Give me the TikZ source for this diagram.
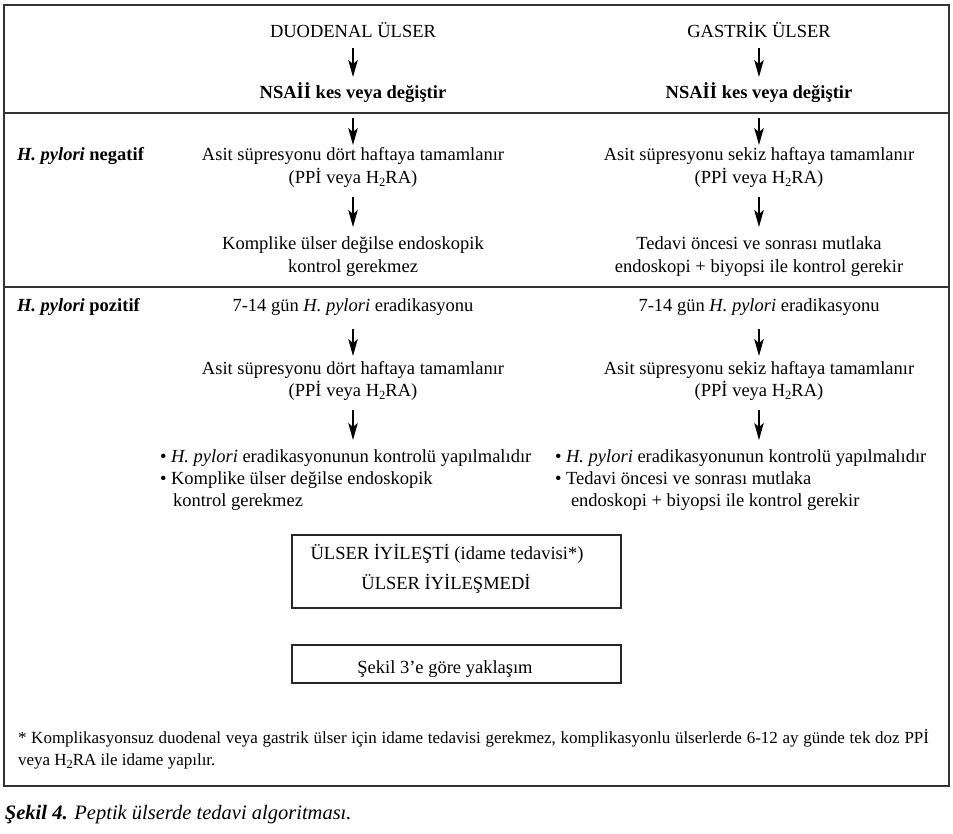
\documentclass[tikz,border=0pt]{standalone}
\usepackage{fontspec}
\setmainfont{Liberation Serif}
\usetikzlibrary{arrows.meta}
\newcommand{\lowsub}[1]{\raisebox{-3.8pt}{\fontsize{12.5}{12}\selectfont #1}}
\begin{document}
\begin{tikzpicture}[x=1pt,y=-1pt,
  every node/.style={inner sep=0pt,outer sep=0pt},
  txt/.style={font=\fontsize{18.5}{23}\selectfont,text height=13pt,text depth=4pt,anchor=base},
  btxt/.style={txt,font=\fontsize{18.5}{23}\selectfont\bfseries},
  fn/.style={font=\fontsize{17}{22}\selectfont,anchor=base west},
  frame/.style={draw=black!80,line width=1.4pt},
  sep/.style={draw=black!80,line width=1.2pt},
  boxnode/.style={draw=black!85,line width=1.2pt,minimum width=329pt},
  arr/.style={-{Stealth[length=17pt,width=9.5pt,inset=4pt]},line width=1.1pt}
]
\useasboundingbox (0,0) rectangle (953,833);
\draw[frame] (4,5) rectangle (949,786);
\draw[sep] (4,113) -- (949,113);
\draw[sep] (4,287) -- (949,287);

% headers
\node[txt] (duT) at (353,37) {DUODENAL ÜLSER};
\node[txt] (gaT) at (759,37) {GASTRİK ÜLSER};
\node[btxt] (duN) at (353,98) {NSAİİ kes veya değiştir};
\node[btxt] (gaN) at (759,98) {NSAİİ kes veya değiştir};

% H. pylori negatif
\node[btxt,anchor=base west] (neg) at (17,160) {\textit{H. pylori} negatif};
\node[txt] (duA1) at (353,160) {Asit süpresyonu dört haftaya tamamlanır};
\node[txt] (duP1) at (353,183) {(PPİ veya H\lowsub{2}RA)};
\node[txt] (duK1) at (353,249) {Komplike ülser değilse endoskopik};
\node[txt] (duK2) at (353,272) {kontrol gerekmez};
\node[txt] (gaA1) at (759,160) {Asit süpresyonu sekiz haftaya tamamlanır};
\node[txt] (gaP1) at (759,183) {(PPİ veya H\lowsub{2}RA)};
\node[txt] (gaK1) at (759,249) {Tedavi öncesi ve sonrası mutlaka};
\node[txt] (gaK2) at (759,272) {endoskopi + biyopsi ile kontrol gerekir};

% H. pylori pozitif
\node[btxt,anchor=base west] (pos) at (17,311) {\textit{H. pylori} pozitif};
\node[txt] (duE) at (353,311) {7-14 gün \textit{H. pylori} eradikasyonu};
\node[txt] (duA2) at (353,374) {Asit süpresyonu dört haftaya tamamlanır};
\node[txt] (duP2) at (353,396) {(PPİ veya H\lowsub{2}RA)};
\node[txt,anchor=base west] (duB1) at (160,462) {\textbullet\ \textit{H. pylori} eradikasyonunun kontrolü yapılmalıdır};
\node[txt,anchor=base west] (duB2) at (160,484) {\textbullet\ Komplike ülser değilse endoskopik};
\node[txt,anchor=base west] (duB3) at (173,506) {kontrol gerekmez};
\node[txt] (gaE) at (759,311) {7-14 gün \textit{H. pylori} eradikasyonu};
\node[txt] (gaA2) at (759,374) {Asit süpresyonu sekiz haftaya tamamlanır};
\node[txt] (gaP2) at (759,396) {(PPİ veya H\lowsub{2}RA)};
\node[txt,anchor=base west] (gaB1) at (555,462) {\textbullet\ \textit{H. pylori} eradikasyonunun kontrolü yapılmalıdır};
\node[txt,anchor=base west] (gaB2) at (555,484) {\textbullet\ Tedavi öncesi ve sonrası mutlaka};
\node[txt,anchor=base west] (gaB3) at (571,506) {endoskopi + biyopsi ile kontrol gerekir};

% boxes
\node[boxnode,minimum height=73pt] (heal) at (456.5,571.5) {};
\node[txt] (heal1) at (447,559) {ÜLSER İYİLEŞTİ (idame tedavisi*)};
\node[txt] (heal2) at (446,589) {ÜLSER İYİLEŞMEDİ};
\node[boxnode,minimum height=38pt] (fig3) at (456.5,664) {};
\node[txt] (fig3t) at (445,673) {Şekil 3’e göre yaklaşım};

% footnote
\node[fn] (fn1) at (18,743) {\makebox[911pt][s]{* Komplikasyonsuz duodenal veya gastrik ülser için idame tedavisi gerekmez, komplikasyonlu ülserlerde 6-12 ay günde tek doz PPİ}};
\node[fn] (fn2) at (18,765) {veya H\lowsub{2}RA ile idame yapılır.};

% caption
\node[anchor=base west,font=\fontsize{20.5}{24}\selectfont\itshape] (cap) at (5,819) {\textbf{Şekil 4.} Peptik ülserde tedavi algoritması.};

% arrows
\foreach \c in {du,ga}{
  \draw[arr,shorten <=7pt,shorten >=8pt] (\c T) -- (\c N);
  \draw[arr,shorten <=16pt,shorten >=2pt] (\c N) -- (\c A1);
  \draw[arr,shorten <=10pt,shorten >=9pt] (\c P1) -- (\c K1);
  \draw[arr,shorten <=14pt,shorten >=5pt] (\c E) -- (\c A2);
  \draw[arr,shorten <=10pt,shorten >=9pt] (\c P2) -- (\c P2 |- \c B1.north);
}
\end{tikzpicture}
\end{document}
